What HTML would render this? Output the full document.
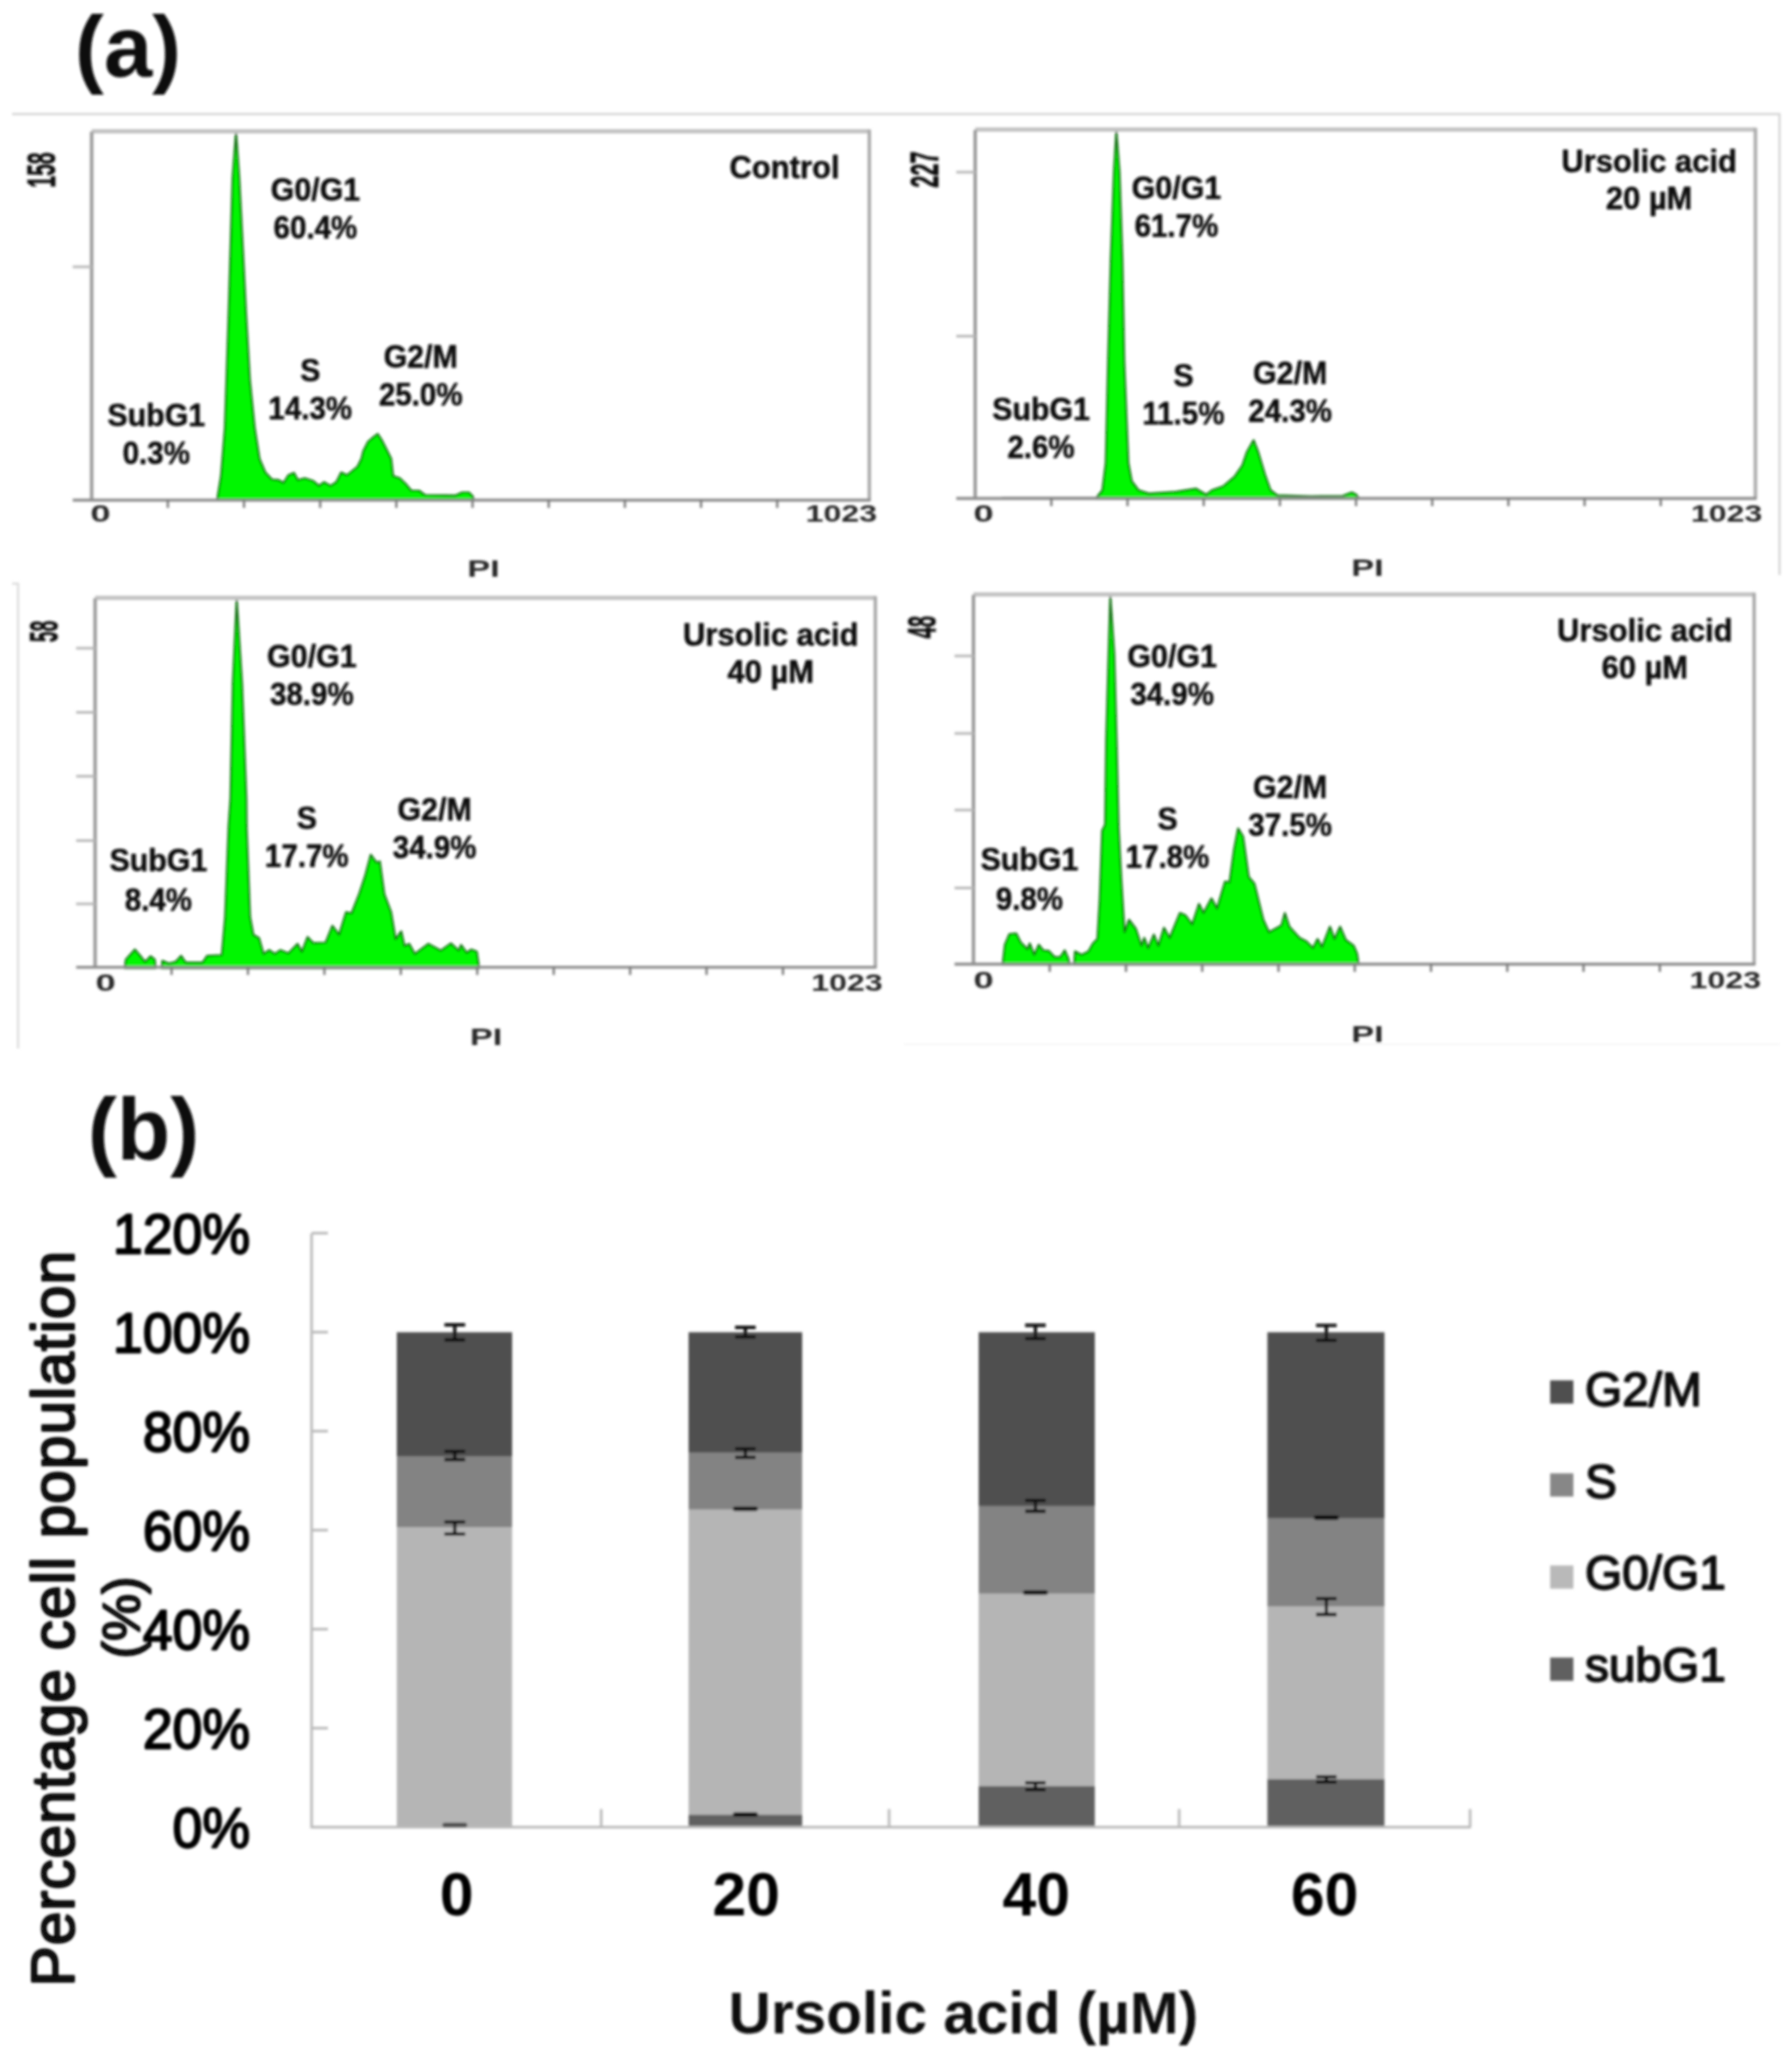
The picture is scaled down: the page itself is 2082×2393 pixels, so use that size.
<!DOCTYPE html>
<html><head><meta charset="utf-8"><title>Figure</title>
<style>
html,body{margin:0;padding:0;background:#fff;}
svg{display:block;}
text{font-family:"Liberation Sans",Arial,sans-serif;fill:#111;}
.b{font-weight:bold;}
.lab{font-weight:bold;font-size:36.5px;text-anchor:middle;fill:#101010;stroke:#101010;stroke-width:0.6px;stroke-linejoin:round;}
.ax{font-weight:bold;font-size:28.5px;fill:#262626;}
.tk{font-size:65.5px;text-anchor:end;fill:#000;stroke:#000;stroke-width:2.3px;stroke-linejoin:round;}
.lg{font-size:55.5px;fill:#111;stroke:#111;stroke-width:2px;stroke-linejoin:round;}
.xl{font-weight:bold;font-size:70.5px;text-anchor:middle;fill:#000;}
</style></head>
<body>
<svg width="2082" height="2393" viewBox="0 0 2082 2393">
<defs><filter id="soft" x="-5%" y="-5%" width="110%" height="110%"><feGaussianBlur stdDeviation="1.4"/></filter></defs>
<rect x="0" y="0" width="2082" height="2393" fill="#fff"/>
<g filter="url(#soft)">
<path d="M14 132.5 H2067.5 V668" fill="none" stroke="#d4d4d4" stroke-width="2.5"/>
<path d="M14 678 H21 V1218" fill="none" stroke="#dcdcdc" stroke-width="2.5"/>
<path d="M1050 1213 H2068" fill="none" stroke="#f6f6f6" stroke-width="2"/>
<text class="b" x="87" y="88.5" font-size="101" fill="#000">(a)</text>
<text class="b" x="102" y="1347" font-size="101.5" fill="#000">(b)</text>
<g id="p1">
<polygon points="252.3,580.5 256.8,553.0 261.3,497.0 265.7,363.0 270.2,207.0 274.2,153.4 278.0,207.0 282.5,296.0 285.8,363.0 290.3,441.5 295.9,497.0 301.5,533.0 308.2,548.7 316.0,557.0 323.8,557.7 329.4,561.0 335.0,552.0 341.7,549.4 346.1,557.7 354.0,555.5 364.0,558.8 370.7,564.4 376.3,560.0 384.1,564.4 390.8,560.0 396.4,548.8 403.1,552.0 415.4,542.0 419.9,533.0 422.1,524.0 427.7,513.0 434.4,507.4 438.8,504.0 443.3,510.8 450.0,524.0 454.5,533.0 456.7,553.0 464.5,555.5 471.2,562.0 477.9,570.0 486.9,570.0 493.6,575.0 529.3,575.6 537.1,572.0 544.9,572.0 549.4,576.7 550.5,580.5" fill="#00f600" stroke="#0b700b" stroke-width="2.2" stroke-linejoin="round"/>
<path d="M106.5 152.5 H1010" fill="none" stroke="#c2c2c2" stroke-width="5"/>
<path d="M1010 150.5 V581" fill="none" stroke="#aaaaaa" stroke-width="4"/>
<path d="M106.5 153 V581" fill="none" stroke="#9a9a9a" stroke-width="4"/>
<path d="M84.5 581 H1011.5" fill="none" stroke="#8c8c8c" stroke-width="3.4"/>
<path d="M84.5 310 H106.5 " fill="none" stroke="#b8b8b8" stroke-width="3"/>
<path d="M195.0 581 v9 M283.5 581 v9 M372.0 581 v9 M460.5 581 v9 M549.0 581 v9 M637.5 581 v9 M726.0 581 v9 M814.5 581 v9 M903.0 581 v9 " fill="none" stroke="#777" stroke-width="2.6"/>
<text class="b" font-size="45.5" textLength="41" lengthAdjust="spacingAndGlyphs" transform="translate(64.1 218) rotate(-90)" x="0" y="0" fill="#161616" stroke="#161616" stroke-width="0.9">158</text>
<text class="ax" x="105" y="606.1" textLength="23.5" lengthAdjust="spacingAndGlyphs">0</text>
<text class="ax" x="936" y="606.1" textLength="83" lengthAdjust="spacingAndGlyphs">1023</text>
<text class="ax" x="543" y="669.5" textLength="37.5" lengthAdjust="spacingAndGlyphs">PI</text>
<text class="lab" transform="translate(366.5 233.2) scale(0.967 1)">G0/G1</text><text class="lab" transform="translate(366.5 277.2) scale(0.94 1)">60.4%</text>
<text class="lab" transform="translate(360.5 442.7) scale(0.967 1)">S</text><text class="lab" transform="translate(360.5 486.7) scale(0.94 1)">14.3%</text>
<text class="lab" transform="translate(488.8 426.7) scale(0.967 1)">G2/M</text><text class="lab" transform="translate(488.8 470.7) scale(0.94 1)">25.0%</text>
<text class="lab" transform="translate(181.6 494.6) scale(0.967 1)">SubG1</text><text class="lab" transform="translate(181.6 538.6) scale(0.94 1)">0.3%</text>
<text class="lab" transform="translate(911.5 206.5) scale(0.985 1)">Control</text>
</g>
<g id="p2">
<path d="M1164 578.2 H1274" stroke="#5a5a5a" stroke-width="2" fill="none"/>
<polygon points="1273.0,579.2 1280.8,569.5 1284.7,538.0 1287.4,420.0 1290.6,300.0 1294.2,200.0 1297.0,152.0 1300.7,200.0 1304.0,300.0 1306.2,420.0 1311.0,538.0 1314.9,559.0 1322.8,569.5 1334.6,573.4 1366.0,571.3 1389.7,567.7 1401.5,574.7 1408.0,569.5 1421.0,565.0 1434.2,553.8 1443.4,540.6 1448.7,525.0 1456.5,511.3 1461.8,525.0 1469.6,551.0 1476.2,569.5 1484.0,575.3 1523.4,576.6 1560.0,576.0 1570.6,572.0 1575.9,574.7 1579.0,579.2" fill="#00f600" stroke="#0b700b" stroke-width="2.2" stroke-linejoin="round"/>
<path d="M1133 150.5 H2039.5" fill="none" stroke="#c2c2c2" stroke-width="5"/>
<path d="M2039.5 148.5 V579" fill="none" stroke="#aaaaaa" stroke-width="4"/>
<path d="M1133 151 V579" fill="none" stroke="#9a9a9a" stroke-width="4"/>
<path d="M1111 579 H2041.0" fill="none" stroke="#8c8c8c" stroke-width="3.4"/>
<path d="M1111 200 H1133 M1111 390.6 H1133 " fill="none" stroke="#b8b8b8" stroke-width="3"/>
<path d="M1221.5 579 v9 M1310.0 579 v9 M1398.5 579 v9 M1487.0 579 v9 M1575.5 579 v9 M1664.0 579 v9 M1752.5 579 v9 M1841.0 579 v9 M1929.5 579 v9 " fill="none" stroke="#777" stroke-width="2.6"/>
<text class="b" font-size="45.5" textLength="42" lengthAdjust="spacingAndGlyphs" transform="translate(1089.5 218) rotate(-90)" x="0" y="0" fill="#161616" stroke="#161616" stroke-width="0.9">227</text>
<text class="ax" x="1131" y="605.6" textLength="23.5" lengthAdjust="spacingAndGlyphs">0</text>
<text class="ax" x="1964.5" y="605.6" textLength="83" lengthAdjust="spacingAndGlyphs">1023</text>
<text class="ax" x="1570" y="669" textLength="37.5" lengthAdjust="spacingAndGlyphs">PI</text>
<text class="lab" transform="translate(1366.8 231.2) scale(0.967 1)">G0/G1</text><text class="lab" transform="translate(1366.8 275.2) scale(0.94 1)">61.7%</text>
<text class="lab" transform="translate(1375 449.4) scale(0.967 1)">S</text><text class="lab" transform="translate(1375 493.4) scale(0.94 1)">11.5%</text>
<text class="lab" transform="translate(1499 446.1) scale(0.967 1)">G2/M</text><text class="lab" transform="translate(1499 490.1) scale(0.94 1)">24.3%</text>
<text class="lab" transform="translate(1209.5 487.9) scale(0.967 1)">SubG1</text><text class="lab" transform="translate(1209.5 531.9) scale(0.94 1)">2.6%</text>
<text class="lab" transform="translate(1916 199.8) scale(0.985 1)">Ursolic acid</text><text class="lab" transform="translate(1916 242.8) scale(0.985 1)">20 µM</text>
</g>
<g id="p3">
<polygon points="144.9,1124.7 146.2,1114.7 156.7,1103.0 163.3,1110.8 168.5,1117.4 175.0,1110.8 179.8,1114.7 180.8,1124.7" fill="#00f600" stroke="#0b700b" stroke-width="2.2" stroke-linejoin="round"/>
<polygon points="187.7,1124.7 188.7,1116.0 196.0,1119.2 203.9,1117.4 210.5,1110.3 215.7,1118.2 235.4,1118.2 240.6,1110.3 257.7,1109.5 261.6,1065.0 265.6,960.0 267.8,927.8 270.5,794.0 275.0,696.0 281.2,794.0 286.2,927.8 286.5,960.0 290.5,1065.0 294.4,1086.0 301.0,1089.8 306.2,1108.2 312.8,1103.7 319.3,1108.2 325.9,1103.7 335.0,1107.4 345.6,1096.4 350.8,1105.6 357.4,1088.5 363.9,1095.6 378.3,1095.0 386.2,1075.4 394.0,1085.9 402.0,1059.7 408.5,1061.0 417.7,1037.4 424.2,1017.7 430.8,992.8 437.4,1002.0 441.3,1000.7 446.5,1038.7 454.4,1059.7 459.6,1091.0 466.2,1082.0 470.0,1099.0 475.4,1096.4 482.0,1108.2 497.7,1096.4 512.0,1104.3 523.9,1095.9 533.0,1104.3 535.7,1097.7 542.3,1106.9 547.5,1103.0 554.0,1105.6 556.7,1124.7" fill="#00f600" stroke="#0b700b" stroke-width="2.2" stroke-linejoin="round"/>
<path d="M110.5 694.5 H1017" fill="none" stroke="#c2c2c2" stroke-width="5"/>
<path d="M1017 692.5 V1123.6" fill="none" stroke="#aaaaaa" stroke-width="4"/>
<path d="M110.5 695 V1123.6" fill="none" stroke="#9a9a9a" stroke-width="4"/>
<path d="M88.5 1123.6 H1018.5" fill="none" stroke="#8c8c8c" stroke-width="3.4"/>
<path d="M88.5 753 H110.5 M88.5 827.4 H110.5 M88.5 901.7 H110.5 M88.5 976.4 H110.5 M88.5 1050 H110.5 " fill="none" stroke="#b8b8b8" stroke-width="3"/>
<path d="M199.3 1123.6 v9 M288.1 1123.6 v9 M376.9 1123.6 v9 M465.7 1123.6 v9 M554.5 1123.6 v9 M643.3 1123.6 v9 M732.1 1123.6 v9 M820.9 1123.6 v9 M909.7 1123.6 v9 " fill="none" stroke="#777" stroke-width="2.6"/>
<text class="b" font-size="45.5" textLength="25" lengthAdjust="spacingAndGlyphs" transform="translate(67.0 746) rotate(-90)" x="0" y="0" fill="#161616" stroke="#161616" stroke-width="0.9">58</text>
<text class="ax" x="111" y="1150.6" textLength="23.5" lengthAdjust="spacingAndGlyphs">0</text>
<text class="ax" x="942.5" y="1150.6" textLength="83" lengthAdjust="spacingAndGlyphs">1023</text>
<text class="ax" x="546" y="1214" textLength="37.5" lengthAdjust="spacingAndGlyphs">PI</text>
<text class="lab" transform="translate(362.3 774.7) scale(0.967 1)">G0/G1</text><text class="lab" transform="translate(362.3 818.7) scale(0.94 1)">38.9%</text>
<text class="lab" transform="translate(356.5 963.2) scale(0.967 1)">S</text><text class="lab" transform="translate(356.5 1007.2) scale(0.94 1)">17.7%</text>
<text class="lab" transform="translate(505 953.2) scale(0.967 1)">G2/M</text><text class="lab" transform="translate(505 997.2) scale(0.94 1)">34.9%</text>
<text class="lab" transform="translate(184 1012.2) scale(0.967 1)">SubG1</text><text class="lab" transform="translate(184 1058.2) scale(0.94 1)">8.4%</text>
<text class="lab" transform="translate(895.5 749.7) scale(0.985 1)">Ursolic acid</text><text class="lab" transform="translate(895.5 792.7) scale(0.985 1)">40 µM</text>
</g>
<g id="p4">
<polygon points="1164.9,1120.4 1167.5,1097.4 1172.8,1085.0 1180.7,1084.3 1185.9,1094.7 1193.8,1102.6 1196.4,1096.0 1201.6,1109.2 1206.9,1097.4 1212.0,1104.0 1218.7,1104.7 1225.2,1111.8 1231.8,1111.8 1237.0,1104.0 1241.0,1113.0 1242.8,1120.4" fill="#00f600" stroke="#0b700b" stroke-width="2.2" stroke-linejoin="round"/>
<polygon points="1248.0,1120.4 1249.0,1105.2 1256.7,1109.2 1264.6,1105.2 1269.8,1096.0 1275.0,1090.8 1277.7,1045.0 1280.5,965.0 1284.0,958.0 1285.2,861.0 1288.0,760.4 1290.0,692.0 1294.6,760.4 1297.3,861.0 1299.6,961.3 1302.6,1018.7 1306.5,1083.0 1311.8,1068.5 1319.7,1079.0 1326.2,1098.7 1329.4,1089.5 1334.0,1101.3 1340.6,1085.6 1345.9,1098.7 1352.4,1077.7 1359.0,1089.5 1370.8,1060.6 1377.4,1063.3 1385.2,1073.8 1393.0,1050.0 1398.3,1060.6 1407.5,1043.6 1414.0,1055.4 1423.3,1024.0 1428.5,1025.0 1433.7,987.2 1438.5,962.3 1444.2,971.5 1450.8,1018.7 1457.4,1026.5 1467.8,1068.5 1474.4,1083.0 1488.8,1075.0 1492.8,1060.6 1498.0,1076.4 1509.8,1089.5 1517.7,1093.4 1525.5,1101.3 1530.8,1090.8 1536.0,1100.0 1545.2,1076.4 1550.5,1090.8 1557.0,1076.4 1563.6,1092.0 1572.8,1098.7 1576.7,1107.9 1578.5,1120.4" fill="#00f600" stroke="#0b700b" stroke-width="2.2" stroke-linejoin="round"/>
<path d="M1131 690.5 H2038" fill="none" stroke="#c2c2c2" stroke-width="5"/>
<path d="M2038 688.5 V1120" fill="none" stroke="#aaaaaa" stroke-width="4"/>
<path d="M1131 691 V1120" fill="none" stroke="#9a9a9a" stroke-width="4"/>
<path d="M1109 1120 H2039.5" fill="none" stroke="#8c8c8c" stroke-width="3.4"/>
<path d="M1109 762 H1131 M1109 852 H1131 M1109 941 H1131 M1109 1031.6 H1131 " fill="none" stroke="#b8b8b8" stroke-width="3"/>
<path d="M1219.6 1120 v9 M1308.2 1120 v9 M1396.8 1120 v9 M1485.4 1120 v9 M1574.0 1120 v9 M1662.6 1120 v9 M1751.2 1120 v9 M1839.8 1120 v9 M1928.4 1120 v9 " fill="none" stroke="#777" stroke-width="2.6"/>
<text class="b" font-size="45.5" textLength="26" lengthAdjust="spacingAndGlyphs" transform="translate(1087.0 741.5) rotate(-90)" x="0" y="0" fill="#161616" stroke="#161616" stroke-width="0.9">48</text>
<text class="ax" x="1131" y="1147.6" textLength="23.5" lengthAdjust="spacingAndGlyphs">0</text>
<text class="ax" x="1963" y="1147.6" textLength="83" lengthAdjust="spacingAndGlyphs">1023</text>
<text class="ax" x="1570" y="1210.6" textLength="37.5" lengthAdjust="spacingAndGlyphs">PI</text>
<text class="lab" transform="translate(1361.8 774.7) scale(0.967 1)">G0/G1</text><text class="lab" transform="translate(1361.8 818.7) scale(0.94 1)">34.9%</text>
<text class="lab" transform="translate(1356.5 963.8) scale(0.967 1)">S</text><text class="lab" transform="translate(1356.5 1007.8) scale(0.94 1)">17.8%</text>
<text class="lab" transform="translate(1499 927.2) scale(0.967 1)">G2/M</text><text class="lab" transform="translate(1499 971.2) scale(0.94 1)">37.5%</text>
<text class="lab" transform="translate(1196 1010.7) scale(0.967 1)">SubG1</text><text class="lab" transform="translate(1196 1056.5) scale(0.94 1)">9.8%</text>
<text class="lab" transform="translate(1911 744.8) scale(0.985 1)">Ursolic acid</text><text class="lab" transform="translate(1911 787.8) scale(0.985 1)">60 µM</text>
</g>
<g id="chart">
<text class="tk" transform="translate(290.5 2145.6) scale(0.95 1)" x="0" y="0">0%</text>
<text class="tk" transform="translate(290.5 2030.6) scale(0.95 1)" x="0" y="0">20%</text>
<text class="tk" transform="translate(290.5 1915.6) scale(0.95 1)" x="0" y="0">40%</text>
<text class="tk" transform="translate(290.5 1800.6) scale(0.95 1)" x="0" y="0">60%</text>
<text class="tk" transform="translate(290.5 1685.6) scale(0.95 1)" x="0" y="0">80%</text>
<text class="tk" transform="translate(290.5 1570.6) scale(0.95 1)" x="0" y="0">100%</text>
<text class="tk" transform="translate(290.5 1455.6) scale(0.95 1)" x="0" y="0">120%</text>
<text font-size="70.5" letter-spacing="0.95" stroke="#000" stroke-width="2.2" stroke-linejoin="round" text-anchor="middle" transform="translate(86 1880) rotate(-90)" x="0" y="0" fill="#000">Percentage cell population</text>
<text font-size="61.5" stroke="#000" stroke-width="2" stroke-linejoin="round" text-anchor="middle" transform="translate(162 1879) rotate(-90)" x="0" y="0" fill="#000">(%)</text>
<rect x="461" y="2120.9" width="134" height="2.2" fill="#616161"/>
<rect x="461" y="1773.6" width="134" height="347.8" fill="#b5b5b5"/>
<rect x="461" y="1691.3" width="134" height="82.7" fill="#838383"/>
<rect x="461" y="1547.6" width="134" height="144.2" fill="#505050"/>
<rect x="800" y="2107.7" width="132" height="15.4" fill="#616161"/>
<rect x="800" y="1752.9" width="132" height="355.3" fill="#b5b5b5"/>
<rect x="800" y="1686.8" width="132" height="66.6" fill="#838383"/>
<rect x="800" y="1547.6" width="132" height="139.7" fill="#505050"/>
<rect x="1137" y="2074.3" width="135" height="48.8" fill="#616161"/>
<rect x="1137" y="1850.6" width="135" height="224.2" fill="#b5b5b5"/>
<rect x="1137" y="1748.8" width="135" height="102.3" fill="#838383"/>
<rect x="1137" y="1547.6" width="135" height="201.8" fill="#505050"/>
<rect x="1472.5" y="2066.2" width="136.0" height="56.8" fill="#616161"/>
<rect x="1472.5" y="1865.6" width="136.0" height="201.2" fill="#b5b5b5"/>
<rect x="1472.5" y="1763.2" width="136.0" height="102.8" fill="#838383"/>
<rect x="1472.5" y="1547.6" width="136.0" height="216.1" fill="#505050"/>
<path d="M362 1433 V2122.6 H1709" fill="none" stroke="#b9b9b9" stroke-width="3"/>
<path d="M362 2007.6 h19 M362 1892.6 h19 M362 1777.6 h19 M362 1662.6 h19 M362 1547.6 h19 M362 1432.6 h19 " fill="none" stroke="#b9b9b9" stroke-width="3"/>
<path d="M698.5 2122.6 v-21 M1033 2122.6 v-21 M1370 2122.6 v-21 M1708 2122.6 v-21 " fill="none" stroke="#b9b9b9" stroke-width="3"/>
<path d="M516.4 1539 h24 M516.4 1556.5 h24 M528.4 1539 V1556.5 M516.4 1686 h24 M516.4 1695.5 h24 M528.4 1686 V1695.5 M516.4 1768 h24 M516.4 1782 h24 M528.4 1768 V1782 M854 1542 h24 M854 1553 h24 M866 1542 V1553 M854 1683 h24 M854 1693 h24 M866 1683 V1693 M1191 1539.5 h24 M1191 1555 h24 M1203 1539.5 V1555 M1191 1743 h24 M1191 1755.5 h24 M1203 1743 V1755.5 M1191 2071 h24 M1191 2079 h24 M1203 2071 V2079 M1529 1539.6 h24 M1529 1557 h24 M1541 1539.6 V1557 M1529 1857 h24 M1529 1875.5 h24 M1541 1857 V1875.5 M1529 2064 h24 M1529 2070 h24 M1541 2064 V2070 " fill="none" stroke="#0a0a0a" stroke-width="3.8"/>
<path d="M516.4 2120 h24" stroke="#4a4a4a" stroke-width="5" stroke-linecap="round" fill="none"/>
<path d="M854 1752.7 h24" stroke="#000" stroke-width="5" stroke-linecap="round" fill="none"/>
<path d="M854 2107.8 h24" stroke="#000" stroke-width="5" stroke-linecap="round" fill="none"/>
<path d="M1191 1850 h24" stroke="#000" stroke-width="5" stroke-linecap="round" fill="none"/>
<path d="M1529 1763 h24" stroke="#000" stroke-width="5" stroke-linecap="round" fill="none"/>
<text class="xl" x="530.5" y="2224.5">0</text>
<text class="xl" x="867" y="2224.5">20</text>
<text class="xl" x="1204" y="2224.5">40</text>
<text class="xl" x="1539" y="2224.5">60</text>
<text class="b" font-size="68" text-anchor="middle" x="1119.3" y="2361.5" fill="#000">Ursolic acid (µM)</text>
<rect x="1801" y="1603.5" width="27" height="27" fill="#505050"/><text class="lg" x="1841.5" y="1632.5">G2/M</text>
<rect x="1801" y="1711.5" width="27" height="27" fill="#878787"/><text class="lg" x="1841.5" y="1740.2">S</text>
<rect x="1801" y="1818.5" width="27" height="27" fill="#b9b9b9"/><text class="lg" x="1841.5" y="1845.7">G0/G1</text>
<rect x="1801" y="1925.5" width="27" height="27" fill="#616161"/><text class="lg" x="1841.5" y="1952.7">subG1</text>
</g>
</g>
</svg>
</body></html>
